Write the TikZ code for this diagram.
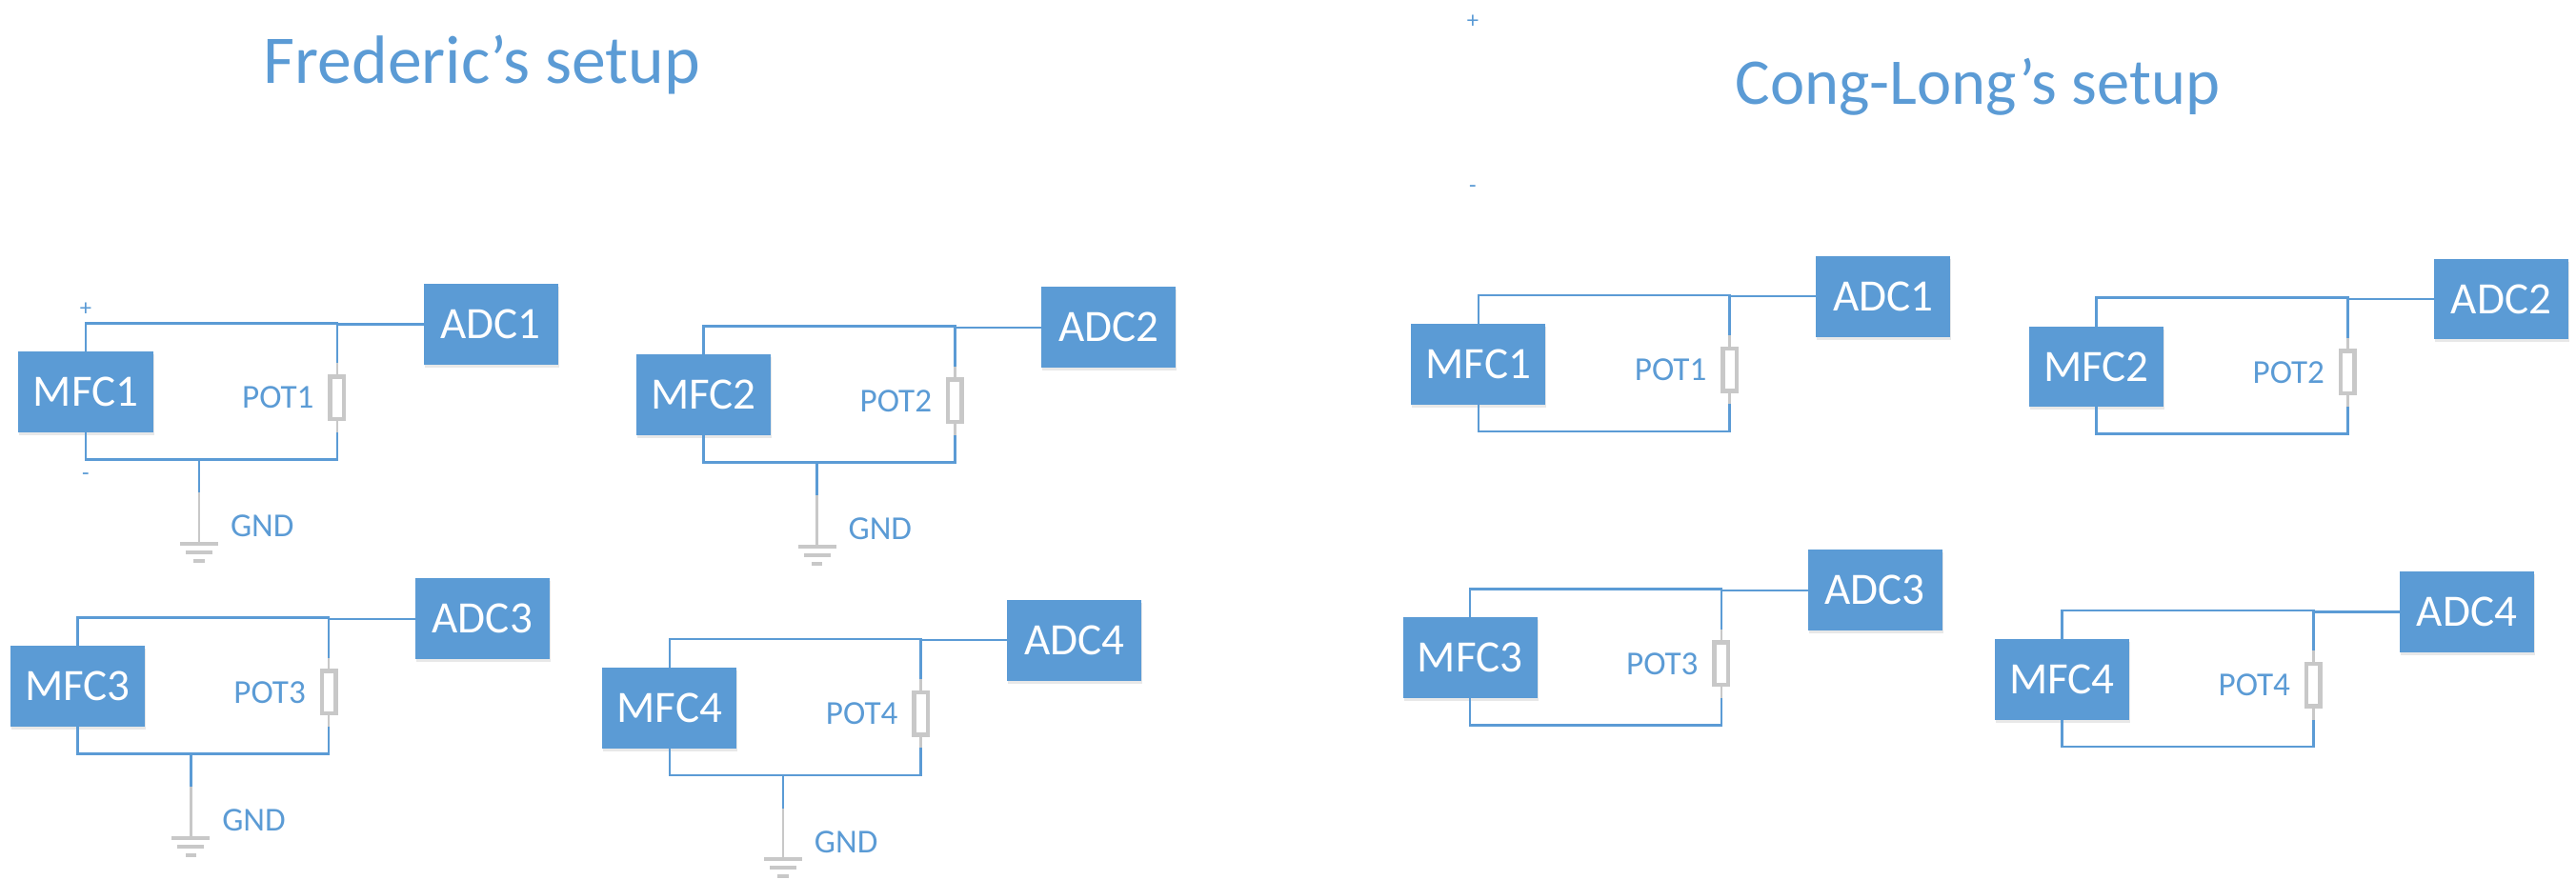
\documentclass[tikz,border=0pt]{standalone}
\usepackage{fontspec}
\setmainfont{Carlito}
\usepackage{tikz}
\usetikzlibrary{arrows.meta, positioning, calc, shadows}
\usepackage{xcolor}
\definecolor{officeblue}{HTML}{5B9BD5}
\definecolor{partgray}{HTML}{C8C8C8}
\tikzset{
  block/.style={rectangle, minimum width=1.41cm, minimum height=0.847cm, inner sep=0pt, outer sep=0pt, fill=officeblue, text=white, font=\fontsize{13.4}{16}\selectfont, drop shadow={opacity=0.18, shadow xshift=0.1mm, shadow yshift=-0.3mm}},
  potbox/.style={rectangle, minimum width=0.145cm, minimum height=0.445cm, inner sep=0pt, outer sep=0pt, draw=partgray, line width=0.045cm, fill=white},
  partlabel/.style={inner sep=0pt, outer sep=0pt, text=officeblue, font=\fontsize{10}{12}\selectfont},
  signlabel/.style={inner sep=0pt, outer sep=0pt, text=officeblue, font=\fontsize{7}{9}\selectfont},
  titlelabel/.style={inner sep=0pt, outer sep=0pt, anchor=base, text=officeblue, font=\fontsize{20.4}{24}\selectfont},
  gndbar/.style={rectangle, minimum height=0.04cm, inner sep=0pt, outer sep=0pt, fill=partgray},
  wire/.style={line width=0.025cm, color=officeblue},
  lead/.style={line width=0.025cm, color=partgray}
}
\begin{document}
\begin{tikzpicture}
    \useasboundingbox (0,0) rectangle (27.04,9.24);

    % Titles and signs
    \node[titlelabel] (titleF) at (5.06,8.36) {Frederic’s setup};
    \node[titlelabel, font=\fontsize{19.5}{24}\selectfont] (titleC) at (20.76,8.14) {Cong-Long’s setup};
    \node[signlabel] (plusF) at (0.90,5.99) {+};
    \node[signlabel] (minusF) at (0.90,4.233) {-};
    \node[signlabel] (plusC) at (15.46,9.013) {+};
    \node[signlabel] (minusC) at (15.46,7.253) {-};

    % Frederic's setup
    \node[block] (mfcF1) at (0.90,5.123) {MFC1};
    \node[block, right=2.84cm of mfcF1, yshift=0.71cm] (adcF1) {ADC1};
    \node[potbox, right=1.86cm of mfcF1, yshift=-0.06cm] (potF1) {};
    \node[partlabel, left=0.17cm of potF1] (labelF1) {POT1};

    \node[block] (mfcF2) at (7.386,5.092) {MFC2};
    \node[block, right=2.84cm of mfcF2, yshift=0.71cm] (adcF2) {ADC2};
    \node[potbox, right=1.86cm of mfcF2, yshift=-0.06cm] (potF2) {};
    \node[partlabel, left=0.17cm of potF2] (labelF2) {POT2};

    \node[block] (mfcF3) at (0.813,2.032) {MFC3};
    \node[block, right=2.84cm of mfcF3, yshift=0.71cm] (adcF3) {ADC3};
    \node[potbox, right=1.86cm of mfcF3, yshift=-0.06cm] (potF3) {};
    \node[partlabel, left=0.17cm of potF3] (labelF3) {POT3};

    \node[block] (mfcF4) at (7.029,1.808) {MFC4};
    \node[block, right=2.84cm of mfcF4, yshift=0.71cm] (adcF4) {ADC4};
    \node[potbox, right=1.86cm of mfcF4, yshift=-0.06cm] (potF4) {};
    \node[partlabel, left=0.17cm of potF4] (labelF4) {POT4};

    % Cong-Long's setup
    \node[block] (mfcC1) at (15.518,5.418) {MFC1};
    \node[block, right=2.84cm of mfcC1, yshift=0.71cm] (adcC1) {ADC1};
    \node[potbox, right=1.86cm of mfcC1, yshift=-0.06cm] (potC1) {};
    \node[partlabel, left=0.17cm of potC1] (labelC1) {POT1};

    \node[block] (mfcC2) at (22.005,5.39) {MFC2};
    \node[block, right=2.84cm of mfcC2, yshift=0.71cm] (adcC2) {ADC2};
    \node[potbox, right=1.86cm of mfcC2, yshift=-0.06cm] (potC2) {};
    \node[partlabel, left=0.17cm of potC2] (labelC2) {POT2};

    \node[block] (mfcC3) at (15.43,2.332) {MFC3};
    \node[block, right=2.84cm of mfcC3, yshift=0.71cm] (adcC3) {ADC3};
    \node[potbox, right=1.86cm of mfcC3, yshift=-0.06cm] (potC3) {};
    \node[partlabel, left=0.17cm of potC3] (labelC3) {POT3};

    \node[block] (mfcC4) at (21.645,2.105) {MFC4};
    \node[block, right=2.84cm of mfcC4, yshift=0.71cm] (adcC4) {ADC4};
    \node[potbox, right=1.86cm of mfcC4, yshift=-0.06cm] (potC4) {};
    \node[partlabel, left=0.17cm of potC4] (labelC4) {POT4};

    % Ground symbols
    \coordinate[below=0.283cm of mfcF1.south] (botF1);
    \coordinate[right=1.19cm of botF1] (stemF1);
    \node[partlabel, right=0.33cm of stemF1, yshift=-0.70cm] (gndF1) {GND};
    \node[gndbar, minimum width=0.40cm, below=0.864cm of stemF1] (barF1a) {};
    \node[gndbar, minimum width=0.28cm, below=0.05cm of barF1a] (barF1b) {};
    \node[gndbar, minimum width=0.115cm, below=0.05cm of barF1b] (barF1c) {};

    \coordinate[below=0.283cm of mfcF2.south] (botF2);
    \coordinate[right=1.19cm of botF2] (stemF2);
    \node[partlabel, right=0.33cm of stemF2, yshift=-0.70cm] (gndF2) {GND};
    \node[gndbar, minimum width=0.40cm, below=0.864cm of stemF2] (barF2a) {};
    \node[gndbar, minimum width=0.28cm, below=0.05cm of barF2a] (barF2b) {};
    \node[gndbar, minimum width=0.115cm, below=0.05cm of barF2b] (barF2c) {};

    \coordinate[below=0.283cm of mfcF3.south] (botF3);
    \coordinate[right=1.19cm of botF3] (stemF3);
    \node[partlabel, right=0.33cm of stemF3, yshift=-0.70cm] (gndF3) {GND};
    \node[gndbar, minimum width=0.40cm, below=0.864cm of stemF3] (barF3a) {};
    \node[gndbar, minimum width=0.28cm, below=0.05cm of barF3a] (barF3b) {};
    \node[gndbar, minimum width=0.115cm, below=0.05cm of barF3b] (barF3c) {};

    \coordinate[below=0.283cm of mfcF4.south] (botF4);
    \coordinate[right=1.19cm of botF4] (stemF4);
    \node[partlabel, right=0.33cm of stemF4, yshift=-0.70cm] (gndF4) {GND};
    \node[gndbar, minimum width=0.40cm, below=0.864cm of stemF4] (barF4a) {};
    \node[gndbar, minimum width=0.28cm, below=0.05cm of barF4a] (barF4b) {};
    \node[gndbar, minimum width=0.115cm, below=0.05cm of barF4b] (barF4c) {};

    % Drawing wires
    \draw[lead] (potF1.north) -- ++(0,0.14) coordinate (upF1);
    \draw[lead] (potF1.south) -- ++(0,-0.14) coordinate (dnF1);
    \draw[wire] (mfcF1.north) -- ++(0,0.30) -| (upF1);
    \draw[wire] (mfcF1.south) -- (botF1) -| (dnF1);
    \draw[wire] (adcF1.west) -- (adcF1.west -| potF1.north);
    \draw[wire] (stemF1) -- ++(0,-0.35) coordinate (midF1);
    \draw[lead] (midF1) -- (barF1a.north);

    \draw[lead] (potF2.north) -- ++(0,0.14) coordinate (upF2);
    \draw[lead] (potF2.south) -- ++(0,-0.14) coordinate (dnF2);
    \draw[wire] (mfcF2.north) -- ++(0,0.30) -| (upF2);
    \draw[wire] (mfcF2.south) -- (botF2) -| (dnF2);
    \draw[wire] (adcF2.west) -- (adcF2.west -| potF2.north);
    \draw[wire] (stemF2) -- ++(0,-0.35) coordinate (midF2);
    \draw[lead] (midF2) -- (barF2a.north);

    \draw[lead] (potF3.north) -- ++(0,0.14) coordinate (upF3);
    \draw[lead] (potF3.south) -- ++(0,-0.14) coordinate (dnF3);
    \draw[wire] (mfcF3.north) -- ++(0,0.30) -| (upF3);
    \draw[wire] (mfcF3.south) -- (botF3) -| (dnF3);
    \draw[wire] (adcF3.west) -- (adcF3.west -| potF3.north);
    \draw[wire] (stemF3) -- ++(0,-0.35) coordinate (midF3);
    \draw[lead] (midF3) -- (barF3a.north);

    \draw[lead] (potF4.north) -- ++(0,0.14) coordinate (upF4);
    \draw[lead] (potF4.south) -- ++(0,-0.14) coordinate (dnF4);
    \draw[wire] (mfcF4.north) -- ++(0,0.30) -| (upF4);
    \draw[wire] (mfcF4.south) -- (botF4) -| (dnF4);
    \draw[wire] (adcF4.west) -- (adcF4.west -| potF4.north);
    \draw[wire] (stemF4) -- ++(0,-0.35) coordinate (midF4);
    \draw[lead] (midF4) -- (barF4a.north);

    \draw[lead] (potC1.north) -- ++(0,0.14) coordinate (upC1);
    \draw[lead] (potC1.south) -- ++(0,-0.14) coordinate (dnC1);
    \draw[wire] (mfcC1.north) -- ++(0,0.30) -| (upC1);
    \draw[wire] (mfcC1.south) -- ++(0,-0.283) -| (dnC1);
    \draw[wire] (adcC1.west) -- (adcC1.west -| potC1.north);

    \draw[lead] (potC2.north) -- ++(0,0.14) coordinate (upC2);
    \draw[lead] (potC2.south) -- ++(0,-0.14) coordinate (dnC2);
    \draw[wire] (mfcC2.north) -- ++(0,0.30) -| (upC2);
    \draw[wire] (mfcC2.south) -- ++(0,-0.283) -| (dnC2);
    \draw[wire] (adcC2.west) -- (adcC2.west -| potC2.north);

    \draw[lead] (potC3.north) -- ++(0,0.14) coordinate (upC3);
    \draw[lead] (potC3.south) -- ++(0,-0.14) coordinate (dnC3);
    \draw[wire] (mfcC3.north) -- ++(0,0.30) -| (upC3);
    \draw[wire] (mfcC3.south) -- ++(0,-0.283) -| (dnC3);
    \draw[wire] (adcC3.west) -- (adcC3.west -| potC3.north);

    \draw[lead] (potC4.north) -- ++(0,0.14) coordinate (upC4);
    \draw[lead] (potC4.south) -- ++(0,-0.14) coordinate (dnC4);
    \draw[wire] (mfcC4.north) -- ++(0,0.30) -| (upC4);
    \draw[wire] (mfcC4.south) -- ++(0,-0.283) -| (dnC4);
    \draw[wire] (adcC4.west) -- (adcC4.west -| potC4.north);
\end{tikzpicture}
\end{document}
